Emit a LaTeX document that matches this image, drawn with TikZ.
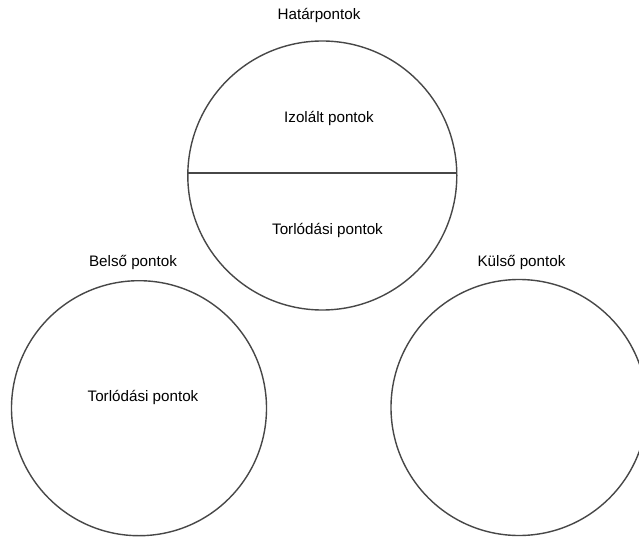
\documentclass[tikz,border=0pt]{standalone}
\usepackage{fontspec}
\setmainfont{Liberation Sans}
\begin{document}
\begin{tikzpicture}[x=1pt,y=-1pt,
  ring/.style={circle,draw=black!72,line width=1.4pt,inner sep=0pt},
  lbl/.style={font=\fontsize{15.2}{18}\selectfont,inner sep=0pt,text=black}]
\useasboundingbox[fill=white] (0,0) rectangle (639,537);
\node[ring,minimum size=269pt] (top) at (322.3,175.5) {};
\node[ring,minimum size=255pt] (left) at (139,408.2) {};
\node[ring,minimum size=256pt] (right) at (519,407.5) {};
\coordinate (lw) at (187.9,173);
\coordinate (le) at (456.7,173);
\draw[black!72,line width=1.9pt] (lw) -- (le);
\node[lbl] (t1) at (319,15) {Határpontok};
\node[lbl] (t2) at (329,118) {Izolált pontok};
\node[lbl] (t3) at (327.5,230) {Torlódási pontok};
\node[lbl] (t4) at (133,262) {Belső pontok};
\node[lbl] (t5) at (521.5,262) {Külső pontok};
\node[lbl] (t6) at (143,397) {Torlódási pontok};
\end{tikzpicture}
\end{document}
